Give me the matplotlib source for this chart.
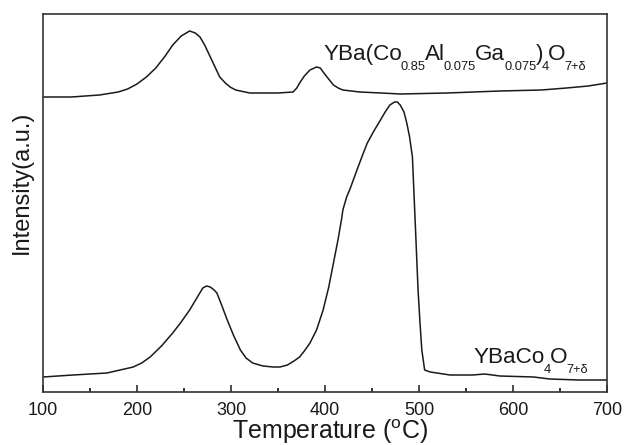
import matplotlib.pyplot as plt

plt.rcParams['font.family'] = ['Liberation Sans', 'DejaVu Sans']
plt.rcParams['mathtext.fontset'] = 'custom'
plt.rcParams['mathtext.rm'] = 'Liberation Sans'

# doped sample (upper curve), intensity in arbitrary units
t_dop = [100, 130, 160, 180, 190, 200, 210, 220, 230, 238, 247, 256, 262, 267, 272, 278,
         283, 288, 294, 299, 305, 310, 320, 331, 350, 366, 370, 373, 378, 384, 391,
         395, 398, 403, 409, 414, 419, 437, 460, 480, 530, 586, 630, 657, 680, 700]
i_dop = [295, 295, 297, 300, 303, 308, 315, 324, 336, 347, 356, 361, 359, 355, 347, 335,
         325, 315, 309, 305, 302, 301, 299, 299, 299, 300, 304, 309, 316, 322, 325,
         324, 320, 314, 307, 304, 302, 300, 299, 298, 299, 301, 302, 304, 306, 309]

# YBaCo4O7+d (lower curve)
t_pure = [100, 132, 168, 196, 205, 214, 226, 238, 247, 256, 263, 270, 274, 278, 282, 285,
          290, 296, 303, 310, 316, 323, 334, 345, 352, 360, 367, 373, 378, 384, 391,
          398, 404, 409, 414, 418, 419, 423, 427, 434, 440, 445, 452, 459, 464, 469,
          474, 477, 480, 484, 487, 490, 493, 496, 499, 501, 503, 506, 512, 519, 533,
          557, 570, 586, 622, 639, 670, 700]
i_pure = [15, 17, 19, 25, 29, 35, 46, 59, 70, 82, 93, 104, 106, 105, 102, 99,
          87, 72, 56, 42, 34, 29, 26, 25, 25, 27, 31, 35, 41, 49, 62,
          82, 105, 129, 153, 175, 182, 195, 204, 222, 237, 249, 261, 272, 280, 287,
          290, 290, 287, 280, 269, 255, 235, 169, 102, 70, 42, 22, 20, 19, 17,
          17, 18, 16, 15, 13, 12, 12]

label_dop = [('YBa(Co', 'n'), ('0.85', 'b'), ('Al', 'n'), ('0.075', 'b'), ('Ga', 'n'),
             ('0.075', 'b'), (')', 'n'), ('4', 'b'), ('O', 'n'), ('7+δ', 'b')]
label_pure = [('YBaCo', 'n'), ('4', 'b'), ('O', 'n'), ('7+δ', 'b')]

W, H = 625, 445
fig = plt.figure(figsize=(W / 100, H / 100), dpi=100)
ax = fig.add_axes([43 / W, 1 - 392 / H, 564 / W, 378 / H])


def formula(x0, y0, parts, size=16.2, sub=9.3, drop=10):
    # lay out text runs one after another, pixel coords from top-left
    r = fig.canvas.get_renderer()
    x = x0
    for s, k in parts:
        fs = size if k == 'n' else sub
        y = y0 if k == 'n' else y0 + drop
        t = fig.text(x / W, 1 - y / H, s, fontsize=fs, ha='left', va='baseline',
                     color='#1a1a1a')
        x = t.get_window_extent(r).x1 - 1


ax.plot(t_dop, i_dop, color='#1a1a1a', lw=1.1)
ax.plot(t_pure, i_pure, color='#1a1a1a', lw=1.1)

ax.set_xlim(100, 700)
ax.set_ylim(0, 378)
ax.set_xticks([100, 200, 300, 400, 500, 600, 700])
ax.set_xticks([150, 250, 350, 450, 550, 650], minor=True)
ax.set_yticks([])
ax.tick_params(axis='x', direction='in', length=5, width=1.1, labelsize=13, pad=7,
               colors='#1a1a1a')
ax.tick_params(axis='x', which='minor', direction='in', length=3, width=1.1)
for s in ax.spines.values():
    s.set_linewidth(1.2)
    s.set_color('#333333')

fig.text(330 / W, 1 - 439 / H, r'Temperature ($^{\rm o}$C)', fontsize=18,
         ha='center', va='baseline', color='#1a1a1a')
fig.text(22 / W, 1 - 182 / H, 'Intensity(a.u.)', fontsize=17, rotation=90,
         ha='center', va='center', color='#1a1a1a')

formula(323, 60, label_dop)
formula(473, 363, label_pure)

fig.savefig('out.png', dpi=100)
